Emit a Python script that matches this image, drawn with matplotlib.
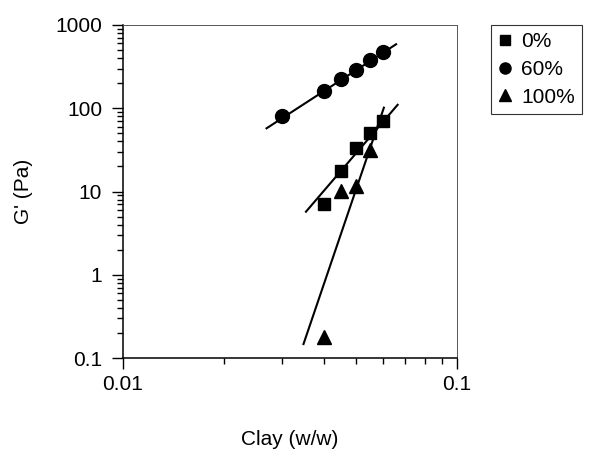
import numpy as np
import matplotlib
matplotlib.use("Agg")
import matplotlib.pyplot as plt
from matplotlib.ticker import LogLocator, FixedLocator, FixedFormatter, NullFormatter

plt.rcParams['font.family'] = ['Liberation Sans', 'DejaVu Sans']

# data
clay_0 = [0.04, 0.045, 0.05, 0.055, 0.06]
g_0 = [7.1, 17.8, 33.0, 50.0, 71.0]
clay_60 = [0.03, 0.04, 0.045, 0.05, 0.055, 0.06]
g_60 = [81, 162, 223, 288, 380, 474]
clay_100 = [0.04, 0.045, 0.05, 0.055]
g_100 = [0.177, 10.1, 11.7, 31.5]

# fitted power-law lines (end points)
fit_x_0 = [0.0353, 0.0664]
fit_y_0 = [5.72, 110]
fit_x_60 = [0.0269, 0.0657]
fit_y_60 = [57.4, 587]
fit_x_100 = [0.0347, 0.0604]
fit_y_100 = [0.147, 101.6]

labels = ['0%', '60%', '100%']
y_ticks = [0.1, 1, 10, 100, 1000]
y_labels = ['0.1', '1', '10', '100', '1000']
x_ticks = [0.01, 0.1]
x_labels = ['0.01', '0.1']

fig = plt.figure(figsize=(5.93, 4.57), dpi=100)
ax = fig.add_axes([0.2074, 0.2166, 0.5633, 0.7287])

ax.plot(fit_x_0, fit_y_0, color='black', lw=1.5)
ax.plot(fit_x_60, fit_y_60, color='black', lw=1.5)
ax.plot(fit_x_100, fit_y_100, color='black', lw=1.5)

ax.plot(clay_0, g_0, 's', color='black', ms=9, label=labels[0])
ax.plot(clay_60, g_60, 'o', color='black', ms=10, label=labels[1])
ax.plot(clay_100, g_100, '^', color='black', ms=10, label=labels[2])

ax.set_xscale('log')
ax.set_yscale('log')
ax.set_xlim(0.01, 0.1)
ax.set_ylim(0.1, 1000)

ax.xaxis.set_major_locator(FixedLocator(x_ticks))
ax.xaxis.set_major_formatter(FixedFormatter(x_labels))
ax.xaxis.set_minor_locator(LogLocator(base=10, subs=np.arange(2, 10)))
ax.xaxis.set_minor_formatter(NullFormatter())
ax.yaxis.set_major_locator(FixedLocator(y_ticks))
ax.yaxis.set_major_formatter(FixedFormatter(y_labels))
ax.yaxis.set_minor_locator(LogLocator(base=10, subs=np.arange(2, 10)))
ax.yaxis.set_minor_formatter(NullFormatter())

ax.tick_params(which='major', direction='out', length=8, width=1, labelsize=15, top=False, right=False)
ax.tick_params(which='minor', direction='out', length=4.5, width=1, top=False, right=False)
ax.tick_params(axis='y', which='major', pad=7)
ax.tick_params(axis='x', which='major', pad=4)

for side in ['left', 'bottom']:
    ax.spines[side].set_linewidth(1.1)
for side in ['top', 'right']:
    ax.spines[side].set_linewidth(0.7)
    ax.spines[side].set_color('#555555')

ax.set_xlabel('Clay (w/w)', fontsize=15, labelpad=26)
ax.set_ylabel("G' (Pa)", fontsize=15, labelpad=16)

leg = ax.legend(loc='upper left', bbox_to_anchor=(0.8275, 0.9453), bbox_transform=fig.transFigure,
                frameon=True, fancybox=False, edgecolor='black', fontsize=15, borderaxespad=0,
                handlelength=0.7, handletextpad=0.4, labelspacing=0.42, borderpad=0.35,
                markerscale=0.8)
leg.get_frame().set_linewidth(0.8)

fig.savefig('out.png', dpi=100)
